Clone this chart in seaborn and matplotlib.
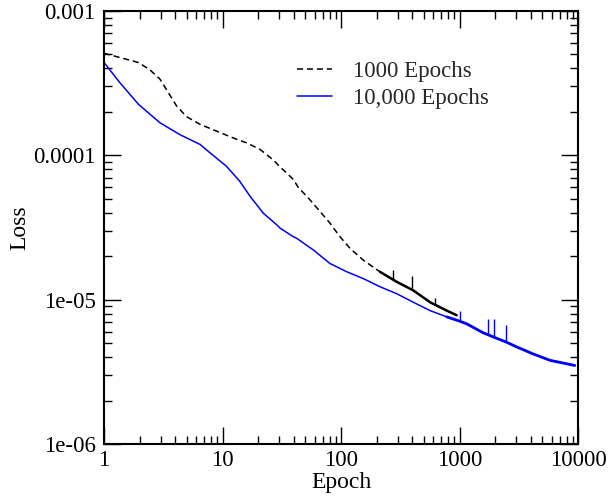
import seaborn as sns
import matplotlib.pyplot as plt
import matplotlib.ticker as mticker
import pandas as pd

# Values
black_epoch = [1, 1.36, 1.95, 2.44, 2.97, 3.49, 4.11, 4.99, 6.46, 8.93, 12.3, 16.0, 20.7,
               26.8, 30.6, 34.8, 39.6, 43.6, 54.7, 66.5, 80.7, 98, 119, 154, 213, 295,
               407, 564, 780, 947]
black_loss = [5.1e-4, 4.76e-4, 4.4e-4, 3.91e-4, 3.37e-4, 2.72e-4, 2.19e-4, 1.85e-4,
              1.64e-4, 1.47e-4, 1.32e-4, 1.22e-4, 1.10e-4, 9.3e-5, 8.3e-5, 7.55e-5, 6.8e-5,
              6.0e-5, 4.92e-5, 4.08e-5, 3.39e-5, 2.73e-5, 2.27e-5, 1.88e-5, 1.56e-5,
              1.33e-5, 1.16e-5, 9.6e-6, 8.4e-6, 7.8e-6]

blue_epoch = [1, 1.36, 1.95, 2.97, 4.38, 6.46, 7.85, 10.8, 14.0, 17.1, 22.1, 28.7, 30.6,
              39.6, 42.3, 58.4, 80.7, 112, 154, 213, 295, 407, 564, 780, 1000, 1150, 1580,
              2000, 2460, 3050, 4200, 5800, 9400]
blue_loss = [4.4e-4, 3.19e-4, 2.26e-4, 1.68e-4, 1.39e-4, 1.19e-4, 1.04e-4, 8.4e-5, 6.6e-5,
             5.2e-5, 3.97e-5, 3.3e-5, 3.13e-5, 2.73e-5, 2.66e-5, 2.21e-5, 1.78e-5, 1.56e-5,
             1.40e-5, 1.23e-5, 1.10e-5, 9.6e-6, 8.4e-6, 7.6e-6, 7.1e-6, 6.8e-6, 5.9e-6,
             5.45e-6, 5.1e-6, 4.7e-6, 4.2e-6, 3.8e-6, 3.5e-6]

# isolated spikes: epoch, bottom, top
black_spike_epoch = [277, 400, 620]
black_spike_low = [1.4e-5, 1.2e-5, 9.2e-6]
black_spike_high = [1.6e-5, 1.46e-5, 1.03e-5]
blue_spike_epoch = [1000, 1740, 1970, 2460]
blue_spike_low = [7.1e-6, 5.7e-6, 5.5e-6, 5.1e-6]
blue_spike_high = [8.4e-6, 7.4e-6, 7.4e-6, 6.7e-6]

x_ticks = [1, 10, 100, 1000, 10000]
x_tick_labels = ["1", "10", "100", "1000", "10000"]
y_ticks = [1e-6, 1e-5, 1e-4, 1e-3]
y_tick_labels = ["1e-06", "1e-05", "0.0001", "0.001"]

df_black = pd.DataFrame({"Epoch": black_epoch, "Loss": black_loss})
df_blue = pd.DataFrame({"Epoch": blue_epoch, "Loss": blue_loss})

sns.set_style("ticks")
plt.rcParams['font.family'] = ['Liberation Serif', 'DejaVu Serif']

fig = plt.figure(figsize=(6.08, 5.04), dpi=100)
ax = fig.add_axes([104 / 608, 1 - 444 / 504, 474 / 608, 433 / 504])

sns.lineplot(data=df_black, x="Epoch", y="Loss", ax=ax, color="black", lw=1.1,
             linestyle=(0, (4, 2.5)), label="1000 Epochs", sort=False, estimator=None)
sns.lineplot(data=df_blue, x="Epoch", y="Loss", ax=ax, color="#0000ff", lw=1.1,
             label="10,000 Epochs", sort=False, estimator=None)

# the noisy tails look like thicker solid bands in the reference
sns.lineplot(data=df_black[df_black["Epoch"] >= 200], x="Epoch", y="Loss", ax=ax,
             color="black", lw=1.8, sort=False, estimator=None, legend=False)
sns.lineplot(data=df_blue[df_blue["Epoch"] >= 700], x="Epoch", y="Loss", ax=ax,
             color="#0000ff", lw=2.0, sort=False, estimator=None, legend=False)

ax.vlines(black_spike_epoch, black_spike_low, black_spike_high, color="black", lw=1.0)
ax.vlines(blue_spike_epoch, blue_spike_low, blue_spike_high, color="#0000ff", lw=1.0)

ax.set_xscale("log")
ax.set_yscale("log")
ax.set_xlim(1, 10000)
ax.set_ylim(1e-6, 1e-3)

ax.set_xticks(x_ticks)
ax.set_xticklabels(x_tick_labels)
ax.set_yticks(y_ticks)
ax.set_yticklabels(y_tick_labels)
ax.xaxis.set_minor_locator(mticker.LogLocator(base=10, subs=range(2, 10)))
ax.yaxis.set_minor_locator(mticker.LogLocator(base=10, subs=range(2, 10)))
ax.xaxis.set_minor_formatter(mticker.NullFormatter())
ax.yaxis.set_minor_formatter(mticker.NullFormatter())

ax.tick_params(which="both", direction="in", top=True, right=True, labelsize=16.5,
               width=1.0, color="black", labelcolor="black")
ax.tick_params(which="major", length=12, pad=4)
ax.tick_params(axis="y", which="major", pad=6)
ax.tick_params(which="minor", length=6)
for side in ax.spines.values():
    side.set_linewidth(1.5)
    side.set_color("black")
    side.set_visible(True)

ax.set_xlabel("Epoch", fontsize=17, labelpad=1, color="black")
ax.set_ylabel("Loss", fontsize=17, labelpad=2, color="black")

ax.legend(loc="upper left", bbox_to_anchor=(0.407, 0.885), frameon=False, fontsize=16.5,
          handlelength=1.55, handletextpad=0.9, borderpad=0, borderaxespad=0,
          labelspacing=0.25)

fig.savefig("out.png", dpi=100)
